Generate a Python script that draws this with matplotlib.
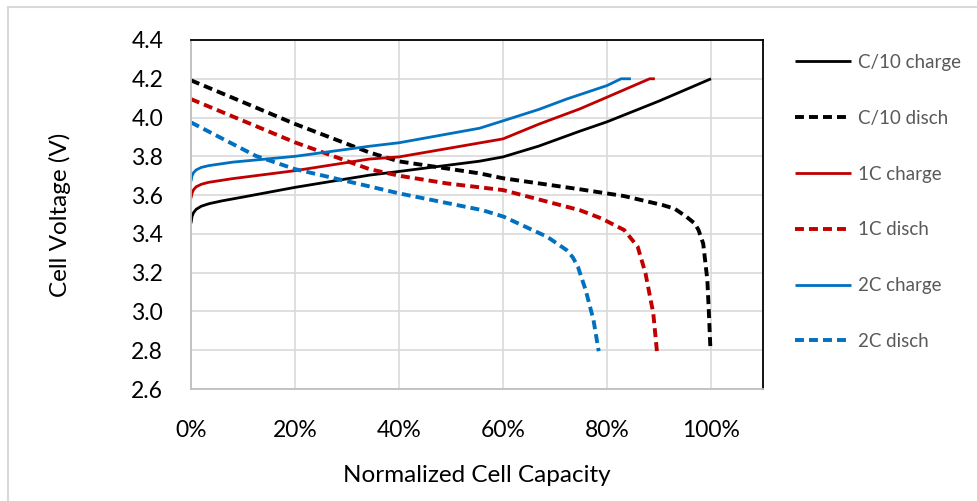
import matplotlib
matplotlib.use("Agg")
import matplotlib.pyplot as plt
from matplotlib.patches import Rectangle
from matplotlib.ticker import FuncFormatter

plt.rcParams['font.family'] = ['Lato', 'DejaVu Sans']

# capacity in %, voltage in V
c10_chg_x = [0, 0.2, 0.5, 1.0, 2.0, 3.5, 5.9, 10, 20, 34.3, 40, 55.5, 60, 66.9, 74.8, 80, 90, 100]
c10_chg_v = [3.455, 3.49, 3.51, 3.527, 3.543, 3.556, 3.57, 3.59, 3.64, 3.703, 3.722, 3.775, 3.797, 3.853, 3.93, 3.978, 4.085, 4.20]

c10_dis_x = [0, 20, 34.3, 40, 55.5, 60, 74.8, 83.3, 90.8, 93, 95.3, 96.9, 97.6, 98.5, 99.3, 99.6, 99.9]
c10_dis_v = [4.192, 3.967, 3.82, 3.774, 3.712, 3.687, 3.63, 3.595, 3.548, 3.53, 3.488, 3.453, 3.42, 3.35, 3.162, 2.99, 2.80]

c1_chg_x = [0, 0.2, 0.5, 1.0, 2.0, 3.4, 8, 20, 34.3, 40, 60, 66.9, 74.8, 80, 88.2, 89.2]
c1_chg_v = [3.585, 3.61, 3.628, 3.643, 3.656, 3.666, 3.685, 3.726, 3.786, 3.797, 3.89, 3.966, 4.045, 4.105, 4.20, 4.20]

c1_dis_x = [0, 20, 34.3, 40, 49.3, 60, 74.8, 78.9, 83.3, 85.9, 87.4, 88.9, 89.6]
c1_dis_v = [4.095, 3.872, 3.734, 3.70, 3.66, 3.626, 3.522, 3.48, 3.42, 3.334, 3.197, 2.99, 2.795]

c2_chg_x = [0, 0.2, 0.5, 1.0, 2.0, 3.4, 8, 20, 34.3, 40, 55.5, 60, 66.9, 72.3, 80, 82.7, 84.6]
c2_chg_v = [3.672, 3.70, 3.716, 3.73, 3.743, 3.752, 3.77, 3.80, 3.852, 3.87, 3.945, 3.983, 4.042, 4.096, 4.165, 4.20, 4.20]

c2_dis_x = [0, 12.4, 20, 34.3, 40, 56.1, 60.1, 68.5, 72.2, 73.4, 74.4, 75.9, 77.4, 78.4]
c2_dis_v = [3.975, 3.803, 3.734, 3.645, 3.609, 3.522, 3.489, 3.385, 3.317, 3.28, 3.231, 3.11, 2.956, 2.795]

labels = ["C/10 charge", "C/10 disch", "1C charge", "1C disch", "2C charge", "2C disch"]
BLACK, RED, BLUE = "#000000", "#C00000", "#0070C0"

fig = plt.figure(figsize=(9.77, 5.01), dpi=100)
ax = fig.add_axes([191/977, 1-389/501, 572/977, 349/501])

sol = dict(lw=2.0, solid_capstyle='butt', solid_joinstyle='round')
dsh = dict(lw=2.8, dashes=(2.3, 1.3), dash_capstyle='butt', dash_joinstyle='round')
ax.plot(c10_chg_x, c10_chg_v, color=BLACK, label=labels[0], **sol)
ax.plot(c10_dis_x, c10_dis_v, color=BLACK, label=labels[1], **dsh)
ax.plot(c1_chg_x, c1_chg_v, color=RED, label=labels[2], **sol)
ax.plot(c1_dis_x, c1_dis_v, color=RED, label=labels[3], **dsh)
ax.plot(c2_chg_x, c2_chg_v, color=BLUE, label=labels[4], **sol)
ax.plot(c2_dis_x, c2_dis_v, color=BLUE, label=labels[5], **dsh)

ax.set_xlim(0, 110)
ax.set_ylim(2.6, 4.4)
ax.set_xticks([0, 20, 40, 60, 80, 100])
ax.set_yticks([2.6, 2.8, 3.0, 3.2, 3.4, 3.6, 3.8, 4.0, 4.2, 4.4])
ax.xaxis.set_major_formatter(FuncFormatter(lambda v, p: f"{v:.0f}%"))
ax.yaxis.set_major_formatter(FuncFormatter(lambda v, p: f"{v:.1f}"))
ax.tick_params(length=0, labelsize=16.5, colors="#000000")
ax.tick_params(axis='y', pad=20)
ax.tick_params(axis='x', pad=22)
ax.grid(True, color="#D9D9D9", lw=1.2)
ax.set_axisbelow(True)
for s in ['left', 'bottom']:
    ax.spines[s].set_color("#BFBFBF")
    ax.spines[s].set_linewidth(1.3)
for s in ['top', 'right']:
    ax.spines[s].set_color("#000000")
    ax.spines[s].set_linewidth(1.3)

ax.set_xlabel("Normalized Cell Capacity", fontsize=17.5, color="#000000")
ax.set_ylabel("Cell Voltage (V)", fontsize=17.5, color="#000000")
ax.xaxis.set_label_coords(0.5, -0.218)
ax.yaxis.set_label_coords(-0.21, 0.5)

leg = ax.legend(loc='upper left', bbox_to_anchor=(795/977, 1-54/501),
                bbox_transform=fig.transFigure, frameon=False, fontsize=13.5,
                handlelength=3.0, handletextpad=0.35, labelspacing=2.07,
                borderpad=0, borderaxespad=0)
for t in leg.get_texts():
    t.set_color("#595959")

fig.patches.append(Rectangle((8/977, -0.1), 1.2, 1.1 - 7/501, transform=fig.transFigure,
                             fill=False, edgecolor="#D9D9D9", lw=1.5))

fig.savefig("out.png", dpi=100)
